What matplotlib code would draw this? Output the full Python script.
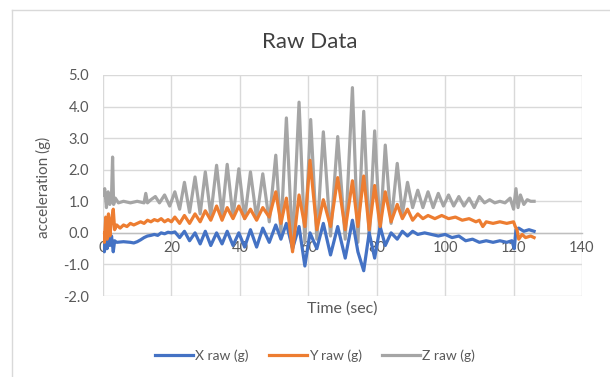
import matplotlib
matplotlib.use("Agg")
import matplotlib.pyplot as plt
from matplotlib.lines import Line2D

# ---------------- data ----------------
z_time = [0, 0.5, 1.0, 1.5, 2.0, 2.5, 2.8, 3.1, 3.6, 4.5, 6, 8, 10, 12, 12.5, 13, 14, 15.3, 16.5, 18, 19.5,
          21, 22.4, 23.8, 25.3, 26.9, 28.4, 29.9, 31.5, 33.2, 34.8, 36.3, 38, 39.7, 41.4, 43.1, 44.9, 46.7, 48.6,
          50.5, 52, 53.6, 55.4, 57.3, 59, 60.7, 62.5, 64.4, 66.5, 68.6, 70.8, 72.9, 74.5, 76.2, 77.8, 79.4, 81,
          82.5, 84.2, 86, 87.5, 89, 90.5, 92, 93.5, 95, 96.5, 98, 99.5, 101, 102.5, 104, 105.5, 107, 108.5, 110,
          111.5, 113, 114.5, 116, 117.5, 119, 120, 120.7, 121.3, 122, 123, 124, 125, 126]
z_raw = [1.2, 1.4, 0.8, 1.3, 0.9, 1.2, 2.4, 0.9, 1.1, 0.95, 1.0, 0.95, 1.0, 0.95, 1.25, 0.95, 1.05, 1.15, 0.95, 1.2, 0.85,
         1.3, 0.75, 1.6, 0.65, 1.77, 0.6, 1.93, 0.55, 2.14, 0.55, 2.17, 0.5, 2.03, 0.45, 1.93, 0.45, 1.87, 0.35,
         2.46, 0.0, 3.64, -0.45, 4.14, -0.3, 3.59, -0.2, 3.2, -0.1, 3.05, -0.2, 4.6, -0.3, 3.85, -0.2, 3.23, 0.0,
         2.78, 0.3, 2.2, 0.6, 1.6, 0.8, 1.35, 0.8, 1.3, 0.8, 1.25, 0.85, 1.2, 0.85, 1.15, 0.85, 1.1, 0.8, 1.15,
         0.95, 1.05, 0.95, 1.0, 0.95, 1.1, 0.75, 1.4, 0.8, 1.2, 0.9, 1.05, 1.0, 1.0]

y_time = [0, 0.4, 0.8, 1.2, 1.6, 2.0, 2.5, 3.0, 3.4, 4, 5, 6, 7, 8, 9, 10, 11, 12, 13, 14, 15, 16, 17, 18, 19, 20,
          21, 22.4, 23.8, 25.3, 26.9, 28.4, 29.9, 31.5, 33.2, 34.8, 36.3, 38, 39.7, 41.4, 43.1, 44.9, 46.7, 48.6,
          50.5, 52, 53.6, 55.4, 57.3, 59, 60.5, 62.5, 64.4, 66.5, 68.6, 70.8, 72.9, 74.5, 76.2, 77.8, 79.4, 81,
          82.5, 84.2, 86, 87.5, 89, 90.5, 92, 93.5, 95, 97, 99, 101, 103, 105, 107, 109, 110, 111, 112, 114, 116,
          118, 120, 120.5, 121, 121.5, 122.5, 123.5, 125, 126]
y_raw = [0.0, -0.3, 0.5, -0.2, 0.6, -0.1, 0.4, 0.75, 0.1, 0.25, 0.15, 0.25, 0.2, 0.3, 0.25, 0.3, 0.35, 0.3, 0.4, 0.35,
         0.42, 0.38, 0.45, 0.35, 0.42, 0.35,
         0.5, 0.3, 0.55, 0.3, 0.6, 0.35, 0.7, 0.4, 0.85, 0.4, 0.8, 0.45, 0.85, 0.45, 0.75, 0.4, 0.8, 0.5,
         1.3, 0.3, 1.1, -0.6, 1.2, 0.2, 2.3, 0.1, 1.05, 0.2, 1.75, 0.1, 1.65, 0.2, 1.8, 0.1, 1.5, 0.2,
         1.3, 0.35, 0.9, 0.45, 0.75, 0.4, 0.6, 0.45, 0.55, 0.45, 0.55, 0.45, 0.5, 0.4, 0.45, 0.35, 0.4, 0.2,
         0.35, 0.3, 0.35, 0.3, 0.35, 0.2, 0.1, -0.2, -0.05, -0.15, -0.1, -0.15]

x_time = [0, 0.4, 0.8, 1.2, 1.6, 2.0, 2.5, 3.0, 3.4, 4, 6, 8, 9, 10, 11, 12, 13, 14, 15, 16, 17, 18, 19, 20,
          21, 22.4, 23.8, 25.3, 26.9, 28.4, 29.9, 31.5, 33.2, 34.8, 36.3, 38, 39.7, 41.4, 43.1, 44.9, 46.7, 48.6,
          50.5, 52, 53.6, 55.4, 57.3, 59, 60.5, 62.5, 64.4, 66.5, 68.6, 70.8, 72.9, 74.5, 76.2, 77.8, 79.4, 81,
          82.5, 84.2, 86, 87.5, 89, 90.5, 92, 94, 96, 98, 100, 102, 104, 106, 108, 110, 112, 114, 116, 118,
          119.5, 120.2, 120.7, 121.5, 123, 124.5, 126]
x_raw = [-0.2, -0.6, -0.1, -0.5, -0.15, -0.4, -0.1, -0.6, -0.25, -0.3, -0.28, -0.3, -0.32, -0.28, -0.22, -0.15,
         -0.1, -0.08, -0.05, -0.08, 0.0, -0.03, 0.02, 0.0,
         0.03, -0.15, 0.05, -0.25, 0.0, -0.35, 0.05, -0.4, 0.0, -0.35, 0.05, -0.4, 0.0, -0.45, 0.1, -0.45, 0.15, -0.3,
         0.25, -0.2, 0.3, -0.5, 0.2, -1.05, 0.0, -0.5, 0.3, -0.7, 0.2, -0.8, 0.4, -0.6, -1.2, 0.0, -0.8, 0.2,
         -0.4, 0.0, -0.2, 0.05, -0.1, 0.05, -0.05, 0.0, -0.05, -0.1, -0.05, -0.15, -0.1, -0.25, -0.2, -0.3,
         -0.25, -0.3, -0.25, -0.3, -0.25, -0.5, 0.1, 0.15, 0.05, 0.1, 0.05]

x_ticks = [0, 20, 40, 60, 80, 100, 120, 140]
y_ticks = [-2.0, -1.0, 0.0, 1.0, 2.0, 3.0, 4.0, 5.0]
series_labels = ["X raw (g)", "Y raw (g)", "Z raw (g)"]
series_colors = ["#4472C4", "#ED7D31", "#A5A5A5"]

# ---------------- figure ----------------
plt.rcParams['font.family'] = ['Lato', 'DejaVu Sans']
fig = plt.figure(figsize=(6.10, 3.77), dpi=100)
ax = fig.add_axes([103 / 610, 1 - 296 / 377, (582 - 103) / 610, (296 - 75) / 377])

ax.plot(x_time, x_raw, color=series_colors[0], lw=2.3, label=series_labels[0], zorder=3,
        solid_joinstyle="round")
ax.plot(y_time, y_raw, color=series_colors[1], lw=2.3, label=series_labels[1], zorder=4,
        solid_joinstyle="round")
ax.plot(z_time, z_raw, color=series_colors[2], lw=2.3, label=series_labels[2], zorder=2,
        solid_joinstyle="round")

ax.set_xlim(0, 140)
ax.set_ylim(-2, 5)
ax.set_xticks(x_ticks)
ax.set_yticks(y_ticks)
ax.set_yticklabels([f"{v:.1f}" for v in y_ticks])
ax.grid(True, color="#D9D9D9", lw=1.0, zorder=0)
ax.set_axisbelow(True)

for s in ["top", "right", "left"]:
    ax.spines[s].set_visible(False)
ax.spines["bottom"].set_position(("data", 0))
ax.spines["bottom"].set_color("#BFBFBF")
ax.spines["bottom"].set_linewidth(1.0)
ax.spines["bottom"].set_zorder(1)
ax.tick_params(axis="both", length=0, labelsize=10.5, labelcolor="#595959")
ax.tick_params(axis="x", pad=6)
ax.tick_params(axis="y", pad=10)

fig.text(310 / 610, 1 - 42 / 377, "Raw Data", ha="center", va="center", fontsize=16, color="#404040")
fig.text(43 / 610, 1 - 187 / 377, "acceleration (g)", ha="center", va="center", rotation=90,
         fontsize=11, color="#595959")
fig.text(342 / 610, 1 - 309 / 377, "Time (sec)", ha="center", va="center", fontsize=11.5, color="#595959")

leg = fig.legend(loc="center", bbox_to_anchor=(315 / 610, 1 - 356 / 377), ncol=3, frameon=False,
                 fontsize=10, handlelength=2.7, columnspacing=1.5, handletextpad=0.15)
for t in leg.get_texts():
    t.set_color("#595959")

# chart border
fig.add_artist(Line2D([12 / 610, 1], [1 - 10 / 377, 1 - 10 / 377], color="#D9D9D9", lw=1,
                      transform=fig.transFigure))
fig.add_artist(Line2D([12 / 610, 12 / 610], [0, 1 - 10 / 377], color="#D9D9D9", lw=1,
                      transform=fig.transFigure))

fig.savefig("out.png", dpi=100, facecolor="white")
